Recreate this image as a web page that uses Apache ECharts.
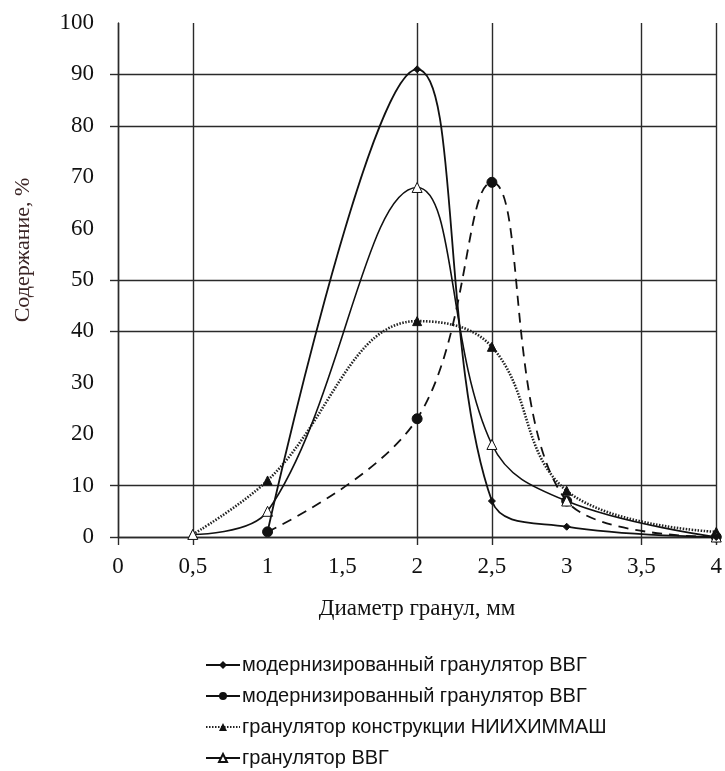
<!DOCTYPE html>
<html>
<head>
<meta charset="utf-8">
<script src="https://cdn.jsdelivr.net/npm/echarts@6/dist/echarts.min.js"></script>
<style>html,body{margin:0;padding:0;background:#fff}#c{width:725px;height:771px}</style>
</head>
<body>
<div id="c"></div>
<script>
// ---- data ----
var seriesNames = [
  'модернизированный гранулятор ВВГ',
  'модернизированный гранулятор ВВГ ',
  'гранулятор конструкции НИИХИММАШ',
  'гранулятор ВВГ'
];
var legendLabels = [
  'модернизированный гранулятор ВВГ',
  'модернизированный гранулятор ВВГ',
  'гранулятор конструкции НИИХИММАШ',
  'гранулятор ВВГ'
];
var x1 = [1, 2, 2.5, 3, 4];
var y1 = [1, 91, 7, 2, 0];
var x2 = [1, 2, 2.5, 3, 4];
var y2 = [1, 23, 69, 7, 0];
var x3 = [0.5, 1, 2, 2.5, 3, 4];
var y3 = [0.5, 11, 42, 37, 9, 1];
var x4 = [0.5, 1, 2, 2.5, 3, 4];
var y4 = [0.5, 5, 68, 18, 7, 0];
var xGridValues = [0, 0.5, 2, 2.5, 3.5, 4];
var yGridValues = [0, 10, 40, 50, 80, 90];
var xTitle = 'Диаметр гранул, мм';
var yTitle = 'Содержание, %';

function pairs(xs, ys) { return xs.map(function (x, i) { return [x, ys[i]]; }); }
function fmt(v) { return String(v).replace('.', ','); }

var serif = '"Liberation Serif", "Times New Roman", serif';
var sans = '"Liberation Sans", Arial, sans-serif';

var chart = echarts.init(document.getElementById('c'));
chart.setOption({
  animation: false,
  backgroundColor: '#fff',
  grid: { left: 118, right: 7, top: 23, bottom: 234, containLabel: false },
  xAxis: {
    type: 'value', min: 0, max: 4, interval: 0.5,
    name: xTitle, nameLocation: 'middle', nameGap: 60,
    nameTextStyle: { fontFamily: serif, fontSize: 23, color: '#111' },
    axisLine: { show: true, lineStyle: { color: '#2a2a2a', width: 1.4 } },
    axisTick: { show: true, length: 8, customValues: xGridValues, lineStyle: { color: '#2a2a2a', width: 1.4 } },
    axisLabel: { fontFamily: serif, fontSize: 23, color: '#111', margin: 18, formatter: fmt },
    splitLine: { show: true, lineStyle: { color: '#2a2a2a', width: 1.4 } }
  },
  yAxis: {
    type: 'value', min: 0, max: 100, interval: 10,
    name: yTitle, nameLocation: 'middle', nameGap: 84, nameRotate: 90,
    nameTextStyle: { fontFamily: serif, fontSize: 22, color: '#3a2424', padding: [0, 0, 0, 60] },
    axisLine: { show: true, lineStyle: { color: '#2a2a2a', width: 1.4 } },
    axisTick: { show: true, length: 8, customValues: yGridValues, lineStyle: { color: '#2a2a2a', width: 1.4 } },
    axisLabel: { fontFamily: serif, fontSize: 23, color: '#111', margin: 24 },
    splitLine: { show: true, lineStyle: { color: '#2a2a2a', width: 1.4 } }
  },
  legend: {
    orient: 'vertical', left: 200, top: 650, height: 140,
    itemWidth: 34, itemHeight: 10, itemGap: 11,
    textStyle: { fontFamily: sans, fontSize: 20, color: '#111', padding: [0, 0, 0, -3] },
    formatter: function (name) { return legendLabels[seriesNames.indexOf(name)]; },
    data: [
      { name: seriesNames[0] },
      { name: seriesNames[1], lineStyle: { type: 'solid' } },
      { name: seriesNames[2] },
      { name: seriesNames[3] }
    ]
  },
  series: [
    {
      name: seriesNames[0], type: 'line', smooth: 0.4, data: pairs(x1, y1),
      symbol: 'diamond', symbolSize: 7, showSymbol: true,
      lineStyle: { color: '#111', width: 1.8, type: 'solid' },
      itemStyle: { color: '#111', borderColor: '#111' }, z: 5
    },
    {
      name: seriesNames[1], type: 'line', smooth: 0.4, data: pairs(x2, y2),
      symbol: 'circle', symbolSize: 10,
      lineStyle: { color: '#111', width: 1.8, type: [10, 7] },
      itemStyle: { color: '#111', borderColor: '#111' }, z: 4
    },
    {
      name: seriesNames[2], type: 'line', smooth: 0.4, data: pairs(x3, y3),
      symbol: 'triangle', symbolSize: 9,
      lineStyle: { color: '#222', width: 2.6, type: [1.5, 1.5] },
      itemStyle: { color: '#111', borderColor: '#111' }, z: 3
    },
    {
      name: seriesNames[3], type: 'line', smooth: 0.4, data: pairs(x4, y4),
      symbol: 'triangle', symbolSize: 10,
      lineStyle: { color: '#111', width: 1.6, type: 'solid' },
      itemStyle: { color: '#fff', borderColor: '#111', borderWidth: 1 }, z: 4
    }
  ]
});
</script>
</body>
</html>
